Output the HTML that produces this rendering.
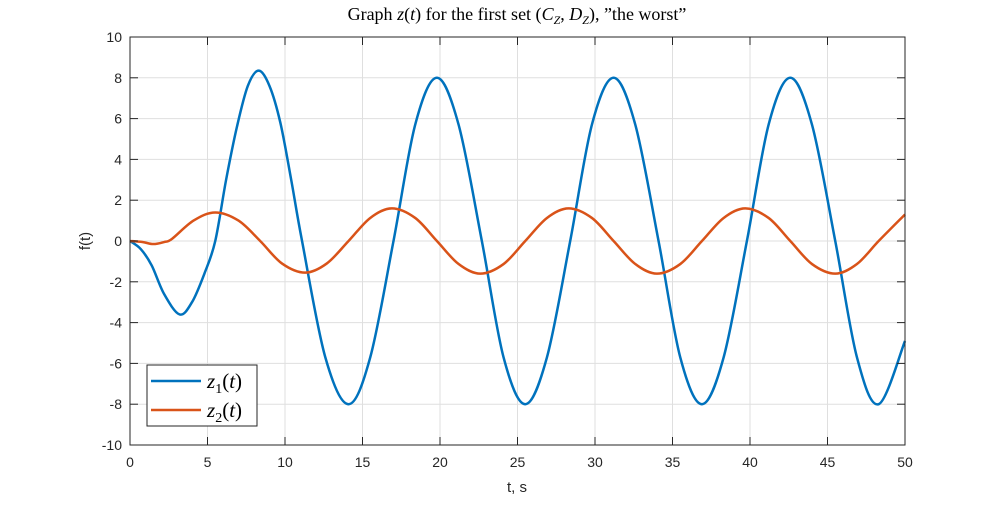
<!DOCTYPE html>
<html><head><meta charset="utf-8"><style>
body{margin:0;background:#fff;}
svg text{font-family:"Liberation Sans",sans-serif;}
</style></head><body>
<svg id="chart" width="1000" height="500" xmlns="http://www.w3.org/2000/svg">
<rect width="1000" height="500" fill="#fff"/>
<g id="grid"></g>
<g id="series"></g>
<rect x="130" y="37" width="775" height="408" fill="none" stroke="#262626" stroke-width="1"/>
<g id="ticks"></g>
<text x="517" y="20" text-anchor="middle" font-size="18" style="font-family:'Liberation Serif',serif">Graph <tspan font-style="italic">z</tspan>(<tspan font-style="italic">t</tspan>) for the first set (<tspan font-style="italic">C</tspan><tspan font-style="italic" font-size="12" dy="4">Z</tspan><tspan dy="-4">, </tspan><tspan font-style="italic">D</tspan><tspan font-style="italic" font-size="12" dy="4">Z</tspan><tspan dy="-4">), ”the worst”</tspan></text>
<text x="517" y="492" text-anchor="middle" font-size="15" fill="#262626">t, s</text>
<text transform="translate(90,241) rotate(-90)" text-anchor="middle" font-size="15" fill="#262626">f(t)</text>
<g>
<rect x="147" y="365" width="110" height="61" fill="#fff" stroke="#262626" stroke-width="1"/>
<line x1="151" y1="381" x2="201" y2="381" stroke="#0072BD" stroke-width="2.5"/>
<line x1="151" y1="410" x2="201" y2="410" stroke="#D95319" stroke-width="2.5"/>
<text x="207" y="388" font-size="21" style="font-family:'Liberation Serif',serif"><tspan font-style="italic">z</tspan><tspan font-size="14" dy="5">1</tspan><tspan dy="-5">(</tspan><tspan font-style="italic">t</tspan>)</text>
<text x="207" y="417" font-size="21" style="font-family:'Liberation Serif',serif"><tspan font-style="italic">z</tspan><tspan font-size="14" dy="5">2</tspan><tspan dy="-5">(</tspan><tspan font-style="italic">t</tspan>)</text>
</g>
</svg>
<script>
const xTicks=[0,5,10,15,20,25,30,35,40,45,50];
const yTicks=[-10,-8,-6,-4,-2,0,2,4,6,8,10];
const z1T=[0,0.7,1.4,2.2,3.2,4.0,4.8,5.5,6.2,6.9,7.6,8.3,9.0,9.7,10.4,11.1,12.6,14.1,15.5,17,18.4,19.8,21.2,22.7,24.1,25.5,26.9,28.4,29.8,31.2,32.6,34.1,35.5,36.9,38.3,39.8,41.2,42.6,44,45.5,46.9,48.3,50];
const z1V=[0,-0.4,-1.2,-2.6,-3.6,-3.0,-1.6,0,3.0,5.6,7.6,8.35,7.6,5.8,3.0,0,-5.7,-8,-5.7,0,5.7,8,5.7,0,-5.7,-8,-5.7,0,5.7,8,5.7,0,-5.7,-8,-5.7,0,5.7,8,5.7,0,-5.7,-8,-4.9];
const z2T=[0,0.8,1.5,2.2,2.7,4.1,5.5,7,8.4,9.8,11.3,12.7,14.1,15.5,16.9,18.4,19.8,21.2,22.6,24.1,25.5,26.9,28.3,29.8,31.2,32.6,34,35.5,36.9,38.3,39.7,41.2,42.6,44,45.5,46.9,48.3,50];
const z2V=[0,-0.05,-0.15,-0.05,0.1,1.0,1.4,1.0,0,-1.1,-1.55,-1.1,0,1.13,1.6,1.13,0,-1.13,-1.6,-1.13,0,1.13,1.6,1.13,0,-1.13,-1.6,-1.13,0,1.13,1.6,1.13,0,-1.13,-1.6,-1.13,0,1.3];
const NS='http://www.w3.org/2000/svg';
const X=v=>130+v/50*775, Y=v=>445-(v+10)/20*408;
function mk(tag,at,parent){const e=document.createElementNS(NS,tag);for(const k in at)e.setAttribute(k,at[k]);document.getElementById(parent).appendChild(e);return e;}
xTicks.forEach(t=>{
 const g=mk('line',{x1:X(t),x2:X(t),y1:37,y2:445,stroke:'#dfdfdf','stroke-width':1},'grid');
 
 
 const a=mk('line',{x1:X(t),x2:X(t),y1:445,y2:437,stroke:'#262626'},'ticks');
 
 
 const b=mk('line',{x1:X(t),x2:X(t),y1:37,y2:45,stroke:'#262626'},'ticks');
 
 
 const l=mk('text',{x:X(t),y:467,'text-anchor':'middle','font-size':14,fill:'#262626'},'ticks');
 l.textContent=t;
 
 
});
yTicks.forEach(t=>{
 const g=mk('line',{x1:130,x2:905,y1:Y(t),y2:Y(t),stroke:'#dfdfdf','stroke-width':1},'grid');
 
 
 const a=mk('line',{x1:130,x2:138,y1:Y(t),y2:Y(t),stroke:'#262626'},'ticks');
 
 
 const b=mk('line',{x1:897,x2:905,y1:Y(t),y2:Y(t),stroke:'#262626'},'ticks');
 
 
 const l=mk('text',{x:122,y:Y(t)+5,'text-anchor':'end','font-size':14,fill:'#262626'},'ticks');
 l.textContent=t;
 
 
});
function pathFor(ts,vs){
 const p=ts.map((t,i)=>[X(t),Y(vs[i])]);
 let d='M'+p[0][0]+','+p[0][1];
 for(let i=0;i<p.length-1;i++){
  const p0=p[Math.max(0,i-1)],p1=p[i],p2=p[i+1],p3=p[Math.min(p.length-1,i+2)];
  const c1=[p1[0]+(p2[0]-p0[0])/6,p1[1]+(p2[1]-p0[1])/6];
  const c2=[p2[0]-(p3[0]-p1[0])/6,p2[1]-(p3[1]-p1[1])/6];
  d+=' C'+c1+' '+c2+' '+p2;
 }
 return d;
}
const s1=mk('path',{d:pathFor(z1T,z1V),fill:'none',stroke:'#0072BD','stroke-width':2.5},'series');


const s2=mk('path',{d:pathFor(z2T,z2V),fill:'none',stroke:'#D95319','stroke-width':2.5},'series');


</script>
</body></html>
